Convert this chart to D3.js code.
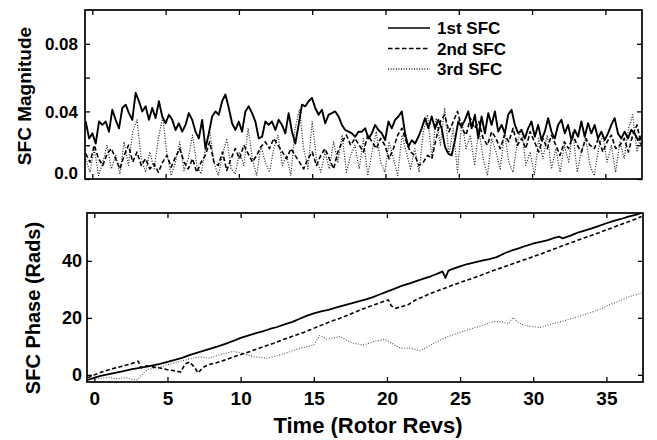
<!DOCTYPE html>
<html><head><meta charset="utf-8">
<script src="https://cdn.jsdelivr.net/npm/d3@7"></script>
<style>
body{margin:0;background:#fff}
svg{display:block}
text{font-family:"Liberation Sans",Arial,Helvetica,sans-serif;font-weight:bold;fill:#000}
</style>
</head><body>
<svg id="c" width="657" height="440"></svg>
<script>
// ---- Data: SFC magnitude (top panel), evenly sampled over time span ----
const magTimeSpan = [-0.45, 37.45];
const mag1 = [
0.034,0.024,0.027,0.021,0.034,0.032,0.034,0.028,0.041,0.035,
0.030,0.042,0.044,0.039,0.035,0.051,0.046,0.040,0.043,0.035,
0.042,0.036,0.046,0.037,0.033,0.038,0.035,0.029,0.033,0.028,
0.032,0.039,0.035,0.028,0.024,0.035,0.018,0.027,0.037,0.040,
0.038,0.046,0.050,0.042,0.033,0.029,0.034,0.028,0.040,0.043,
0.039,0.034,0.024,0.025,0.034,0.032,0.034,0.029,0.035,0.032,
0.027,0.039,0.028,0.021,0.032,0.044,0.043,0.046,0.048,0.042,
0.038,0.041,0.033,0.038,0.039,0.040,0.037,0.032,0.029,0.028,
0.027,0.025,0.028,
0.028,0.030,0.024,0.027,0.032,0.029,0.027,0.023,0.034,0.030,
0.035,0.037,0.040,0.027,0.019,0.023,0.021,0.025,0.030,0.036,
0.030,0.037,0.030,0.035,0.030,0.019,0.015,0.014,0.023,0.034,
0.031,0.035,0.040,0.030,0.038,0.024,0.037,0.027,0.039,0.032,
0.040,0.028,0.032,0.027,0.038,0.041,0.032,0.027,0.029,0.024,
0.030,0.034,0.025,0.032,0.023,0.028,0.036,0.028,0.024,0.032,
0.035,0.027,0.032,0.023,0.029,0.025,0.034,0.025,0.033,0.027,
0.032,0.024,0.028,0.023,0.027,0.032,0.036,0.027,0.024,0.028,
0.024,0.029,0.027,0.023,0.025];
const mag2 = [
0.015,0.010,0.020,0.012,0.008,0.015,0.018,
0.012,0.006,0.014,0.020,0.010,0.016,0.008,
0.012,0.006,0.009,0.004,0.010,0.014,0.007,
0.013,0.018,0.010,0.006,0.012,0.004,0.010,
0.014,0.022,0.010,0.008,0.016,0.005,0.012,
0.018,0.012,0.020,0.015,0.010,0.014,0.019,
0.022,0.018,0.024,0.020,0.016,0.012,0.018,
0.014,0.010,0.006,0.012,0.016,0.008,0.014,
0.018,0.012,0.006,0.016,0.022,0.026,0.020,
0.024,0.020,0.016,0.026,0.022,0.018,0.024,
0.020,0.012,0.018,0.026,0.030,0.022,0.016,
0.014,0.008,0.010,0.014,0.012,0.024,0.034,
0.038,0.028,0.034,0.040,0.030,0.026,0.036,
0.030,0.034,0.024,0.020,0.028,0.024,0.018,
0.026,0.022,0.030,0.020,0.024,0.018,0.028,
0.022,0.016,0.024,0.018,0.026,0.020,0.014,
0.022,0.018,0.026,0.020,0.016,0.024,0.020,
0.018,0.024,0.016,0.022,0.026,0.018,0.020,
0.024,0.016,0.026,0.032,0.020];
const mag3 = [
0.012,0.004,0.018,0.002,0.010,0.020,0.006,
0.014,0.003,0.022,0.008,0.028,0.035,0.012,
0.004,0.016,0.006,0.024,0.037,0.015,0.002,
0.010,0.022,0.005,0.012,0.026,0.008,0.003,
0.018,0.029,0.010,0.002,0.014,0.024,0.006,
0.003,0.016,0.008,0.030,0.012,0.002,0.020,
0.010,0.004,0.018,0.026,0.008,0.014,0.002,
0.030,0.041,0.018,0.006,0.034,0.012,0.004,
0.016,0.006,0.022,0.010,0.026,0.004,0.014,
0.020,0.006,0.024,0.002,0.016,0.028,0.010,
0.004,0.022,0.012,0.002,0.026,0.016,0.006,
0.018,0.004,0.028,0.038,0.012,0.036,0.020,
0.042,0.014,0.030,0.004,0.034,0.018,0.026,
0.008,0.030,0.012,0.002,0.024,0.016,0.006,
0.028,0.010,0.004,0.022,0.030,0.008,0.016,
0.002,0.024,0.012,0.026,0.006,0.018,0.004,
0.020,0.010,0.028,0.004,0.016,0.024,0.008,
0.002,0.018,0.026,0.010,0.020,0.004,0.022,
0.012,0.030,0.038,0.016,0.026];

// ---- Data: SFC phase (bottom panel) ----
const phase1T = [-0.45,0,0.5,1,1.5,2,2.5,3,3.5,4,4.5,5,5.5,6,6.5,7,7.5,8,8.5,9,9.5,10,10.5,11,11.5,12,12.5,13,13.5,14,14.5,15,15.5,16,16.5,17,17.5,18,18.5,19,19.5,20,20.5,21,21.5,22,22.5,23,23.5,23.8,24.0,24.2,24.5,25,25.5,26,26.5,27,27.5,28,28.5,29,29.5,30,30.5,31,31.5,31.8,32.0,32.5,33,33.5,34,34.5,35,35.5,36,36.5,37,37.4];
const phase1 = [-1.8,-1.0,-0.3,0.3,0.8,1.3,1.9,2.4,2.8,3.3,3.9,4.6,5.3,6.0,6.9,7.7,8.5,9.3,10.1,11.0,11.9,13.0,13.8,14.6,15.3,16.1,16.8,17.7,18.5,19.6,20.7,21.6,22.3,22.8,23.6,24.3,25.0,25.7,26.4,27.2,28.2,29.2,30.2,31.2,32.0,32.9,33.8,34.6,35.6,36.3,34.0,36.6,37.2,38.1,38.9,39.5,40.1,40.6,41.3,42.6,43.6,44.4,45.3,46.1,46.7,47.3,48.2,48.5,47.9,48.8,49.8,50.6,51.4,52.3,53.2,54.0,54.7,55.5,56.1,56.8];
const phase2T = [-0.45,0,0.5,1,1.5,2,2.5,3.0,3.2,3.5,4,4.5,5,5.5,5.9,6.2,6.5,6.8,7.1,7.4,7.8,8.3,8.8,9.3,9.8,10.3,10.8,11.3,11.8,12.3,12.8,13.3,13.8,14.3,14.8,15.3,15.8,16.3,16.8,17.3,17.8,18.3,18.8,19.3,19.8,20.1,20.3,20.6,21.0,21.5,22.0,22.5,23,23.5,24,24.5,25,25.5,26,26.5,27,27.5,28,28.5,29,29.5,30,30.5,31,31.5,32,32.5,33,33.5,34,34.5,35,35.5,36,36.5,37,37.4];
const phase2 = [-1.0,0.0,1.0,1.8,2.5,3.2,3.9,4.8,2.5,3.2,2.8,2.4,1.8,1.4,1.0,3.8,4.5,3.0,0.7,2.5,3.6,4.2,5.0,5.9,6.8,7.6,8.5,9.4,10.3,11.2,12.2,13.1,14.0,14.9,15.9,17.0,18.0,19.0,19.9,20.9,22.0,23.0,24.0,24.9,25.8,26.3,24.2,23.4,23.9,24.8,26.4,27.5,28.6,29.6,30.5,31.5,32.4,33.3,34.2,35.1,36.1,37.0,37.9,38.8,39.7,40.6,41.5,42.4,43.4,44.3,45.3,46.2,47.2,48.1,49.0,49.9,50.9,51.8,52.8,53.7,54.7,55.6];
const phase3T = [-0.45,0.3,1.0,1.6,2.2,2.6,2.9,3.3,3.6,4.1,4.6,5.1,5.7,6.3,6.8,7.2,7.8,8.3,8.9,9.5,10.0,10.5,10.9,11.4,11.8,12.4,13.1,13.7,14.3,15.0,15.4,15.9,16.3,16.8,17.2,17.7,18.4,19.1,19.85,20.4,20.9,21.6,22.25,22.7,23.2,23.8,24.5,25.2,25.9,26.6,27.3,27.8,28.3,28.6,28.9,29.3,29.9,30.45,30.9,31.4,32.0,32.7,33.4,34.1,34.7,35.2,35.8,36.5,37.4];
const phase3 = [-1.6,-1.3,-0.9,-1.4,-1.0,-1.7,-1.8,0.3,1.8,2.4,2.9,3.7,4.5,5.3,5.9,6.4,5.8,6.6,7.5,8.2,7.8,7.0,6.4,6.1,5.8,6.6,7.6,8.8,9.6,10.5,13.8,12.6,12.9,13.5,12.2,11.1,10.5,11.7,12.5,10.9,9.4,9.3,8.5,9.6,11.1,12.6,14.0,15.3,16.4,17.5,18.7,18.7,17.9,20.1,18.7,17.5,17.0,16.6,17.3,18.1,18.8,19.9,21.0,22.2,23.3,24.6,25.8,27.3,28.7];

// ---- Ticks / labels ----
const timeTicks = [0,5,10,15,20,25,30,35];
const magTicks = [0,0.02,0.04,0.06,0.08];
const magTickLabels = {"0":"0.0","0.04":"0.04","0.08":"0.08"};
const phaseTicks = [0,20,40];
const seriesNames = ["1st SFC","2nd SFC","3rd SFC"];
const dashes = [null,"4.5,2.5","1,1.6"];
const widths = [1.9,1.6,1.2];
const colors = ["#000","#000","#222"];

const svg = d3.select("#c");

// ---- Scales ----
const xTop = d3.scaleLinear().domain([-0.5,37.5]).range([85,642]);
const yTop = d3.scaleLinear().domain([0,0.1]).range([179,10]);
const xBot = d3.scaleLinear().domain([-0.5,37.5]).range([87,643]);
const yBot = d3.scaleLinear().domain([-2.5,56.8]).range([382,213]);

const defs = svg.append("defs");
defs.append("clipPath").attr("id","clipTop").append("rect")
  .attr("x",85).attr("y",10).attr("width",557).attr("height",169);
defs.append("clipPath").attr("id","clipBot").append("rect")
  .attr("x",87).attr("y",213).attr("width",556).attr("height",169);

function styleAxis(g){ g.select(".domain").remove(); g.selectAll(".tick line").attr("stroke","#000").attr("stroke-width",1.3); }

// ---- Top panel ----
const magSeries = [mag1,mag2,mag3].map(arr => {
  const n = arr.length;
  return arr.map((v,i)=>({t: magTimeSpan[0] + i*(magTimeSpan[1]-magTimeSpan[0])/(n-1), v}));
});
const lineTop = d3.line().x(d=>xTop(d.t)).y(d=>yTop(d.v));
const gTop = svg.append("g").attr("clip-path","url(#clipTop)");
[2,1,0].forEach(k=>{
  gTop.append("path").datum(magSeries[k]).attr("d",lineTop)
    .attr("fill","none").attr("stroke",colors[k]).attr("stroke-width",widths[k])
    .attr("stroke-dasharray",dashes[k]).attr("stroke-linejoin","round");
});

svg.append("g").attr("transform","translate(85,0)")
  .call(d3.axisLeft(yTop).tickValues(magTicks).tickSize(-5).tickPadding(7)
    .tickFormat(v=>magTickLabels[String(+v.toFixed(2))]||""))
  .call(styleAxis)
  .call(g=>g.selectAll("text").style("font-size","17px").style("font-family","'Liberation Sans',Arial,sans-serif").style("font-weight","bold").attr("fill","#000")
     .attr("dy",d=>d===0?"-0.05em":"0.36em"));
svg.append("g").attr("transform","translate(642,0)")
  .call(d3.axisRight(yTop).tickValues(magTicks).tickSize(-5).tickFormat(""))
  .call(styleAxis);
svg.append("g").attr("transform","translate(0,10)")
  .call(d3.axisTop(xTop).tickValues(timeTicks).tickSize(-5).tickFormat(""))
  .call(styleAxis);
svg.append("g").attr("transform","translate(0,179)")
  .call(d3.axisBottom(xTop).tickValues(timeTicks).tickSize(-5).tickFormat(""))
  .call(styleAxis);
svg.append("rect").attr("x",85).attr("y",10).attr("width",557).attr("height",169)
  .attr("fill","none").attr("stroke","#000").attr("stroke-width",1.7);

// legend
const leg = svg.append("g");
seriesNames.forEach((name,k)=>{
  const cy = 28 + k*20.5;
  leg.append("line").attr("x1",388).attr("x2",430).attr("y1",cy).attr("y2",cy)
    .attr("stroke",colors[k]).attr("stroke-width",k===0?1.4:1.3).attr("stroke-dasharray",dashes[k]);
  leg.append("text").attr("x",437).attr("y",cy+6).style("font-size","17px").text(name);
});

svg.append("text").attr("transform","translate(31,96) rotate(-90)")
  .attr("text-anchor","middle").style("font-size","19px").text("SFC Magnitude");

// ---- Bottom panel ----
const phaseSeries = [[phase1T,phase1],[phase2T,phase2],[phase3T,phase3]]
  .map(([ts,vs])=>ts.map((t,i)=>({t,v:vs[i]})));
const lineBot = d3.line().x(d=>xBot(d.t)).y(d=>yBot(d.v));
const gBot = svg.append("g").attr("clip-path","url(#clipBot)");
[2,1,0].forEach(k=>{
  gBot.append("path").datum(phaseSeries[k]).attr("d",lineBot)
    .attr("fill","none").attr("stroke",k===2?"#555":colors[k]).attr("stroke-width",k===0?1.8:(k===1?1.6:1.1))
    .attr("stroke-dasharray",k===1?"4,2.5":dashes[k]).attr("stroke-linejoin","round");
});

svg.append("g").attr("transform","translate(87,0)")
  .call(d3.axisLeft(yBot).tickValues(phaseTicks).tickSize(-5).tickPadding(5).tickFormat(d3.format("d")))
  .call(styleAxis)
  .call(g=>g.selectAll("text").style("font-size","18px").style("font-family","'Liberation Sans',Arial,sans-serif").style("font-weight","bold").attr("fill","#000"));
svg.append("g").attr("transform","translate(643,0)")
  .call(d3.axisRight(yBot).tickValues(phaseTicks).tickSize(-5).tickFormat(""))
  .call(styleAxis);
svg.append("g").attr("transform","translate(0,213)")
  .call(d3.axisTop(xBot).tickValues(timeTicks).tickSize(-5).tickFormat(""))
  .call(styleAxis);
svg.append("g").attr("transform","translate(0,382)")
  .call(d3.axisBottom(xBot).tickValues(timeTicks).tickSize(-5).tickPadding(10).tickFormat(d3.format("d")))
  .call(styleAxis)
  .call(g=>g.selectAll("text").style("font-size","19px").style("font-family","'Liberation Sans',Arial,sans-serif").style("font-weight","bold").attr("fill","#000"));
svg.append("rect").attr("x",87).attr("y",213).attr("width",556).attr("height",169)
  .attr("fill","none").attr("stroke","#000").attr("stroke-width",1.7);

svg.append("text").attr("transform","translate(40,308) rotate(-90)")
  .attr("text-anchor","middle").style("font-size","20px").text("SFC Phase (Rads)");
svg.append("text").attr("x",368).attr("y",433)
  .attr("text-anchor","middle").style("font-size","22px").text("Time (Rotor Revs)");
</script>
</body></html>
